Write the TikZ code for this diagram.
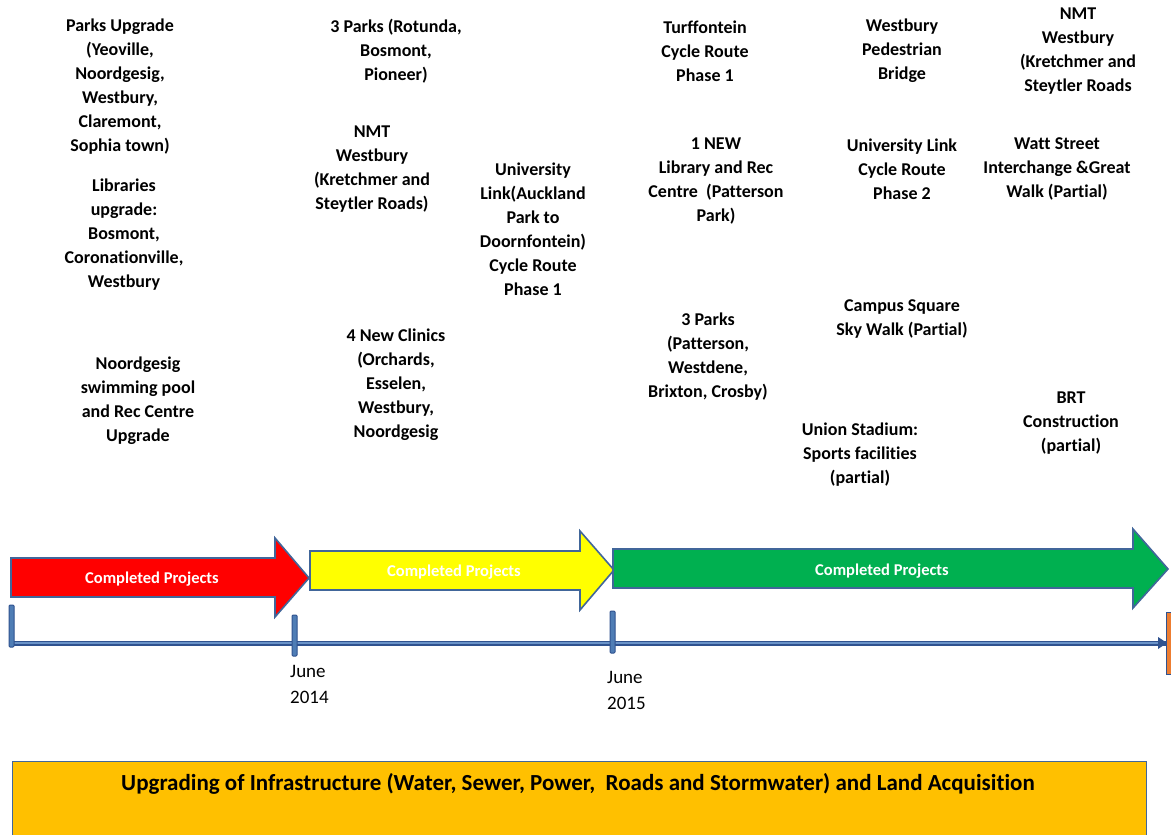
\documentclass[tikz,border=0pt]{standalone}
\usepackage{fontspec}
\setmainfont[RawFeature={-liga}]{Carlito}
\begin{document}
\begin{tikzpicture}[x=1pt,y=-1pt,
  lbl/.style={font=\bfseries\fontsize{18}{24}\selectfont, align=center, inner sep=0pt},
  date/.style={font=\fontsize{19}{26}\selectfont, align=left, inner sep=0pt, anchor=north west},
  arrbody/.style={draw=arrowedge, line width=1.6pt, line join=miter},
  tick/.style={draw=tickedge, fill=tickfill, line width=1pt, rounded corners=1pt},
  arrtext/.style={font=\bfseries\fontsize{16.5}{18}\selectfont, text=white, inner sep=0pt}]
\definecolor{arrowedge}{HTML}{41669A}
\definecolor{tickedge}{HTML}{2F528F}
\definecolor{tickfill}{HTML}{4F7DB5}
\definecolor{linein}{HTML}{6A93C8}
\definecolor{redA}{HTML}{FF0000}
\definecolor{yelA}{HTML}{FFFF00}
\definecolor{grnA}{HTML}{00B050}
\definecolor{boxfill}{HTML}{FFC000}
\definecolor{orangeT}{HTML}{ED7D31}
\useasboundingbox (0,0) rectangle (1171,835);
\fill[white] (0,0) rectangle (1171,835);

% big arrows
\draw[arrbody, fill=redA] (11,558) -- (275,558) -- (275,538) -- (309,578) -- (275,617) -- (275,597) -- (11,597) -- cycle;
\draw[arrbody, fill=yelA] (310,551) -- (580,551) -- (580,531) -- (614,570) -- (580,610) -- (580,590) -- (310,590) -- cycle;
\draw[arrbody, fill=grnA] (613,549) -- (1133,549) -- (1133,529) -- (1168,569) -- (1133,608) -- (1133,588) -- (613,588) -- cycle;
\node[arrtext] (a1) at (152,579) {Completed Projects};
\node[arrtext] (a2) at (454,572) {Completed Projects};
\node[arrtext] (a3) at (882,571) {Completed Projects};

% timeline
\coordinate (t0) at (11,643);
\coordinate (tend) at (1166,643);
\draw[tickedge, line width=5pt] (t0) -- (tend);
\draw[linein, line width=1.6pt] (t0) -- (1160,643);
\fill[tickedge] (1158,637) -- (1167,643) -- (1158,649) -- cycle;
\draw[tick] (9,605) rectangle (14,647);
\draw[tick] (292,615) rectangle (297,656);
\draw[tick] (610,611) rectangle (615,653);
\draw[draw=tickedge, fill=orangeT, line width=1pt] (1166,612) rectangle (1173,674);

\node[date] (d1) at (290,665) {June\\2014};
\node[date] (d2) at (607,671) {June\\2015};

% bottom box
\draw[draw=arrowedge, fill=boxfill, line width=1pt] (12,761) rectangle (1146,840);
\node[font=\bfseries\fontsize{23}{26}\selectfont, inner sep=0pt] (infra) at (578,784) {Upgrading of Infrastructure (Water, Sewer, Power,\ \ Roads and Stormwater) and Land Acquisition};

% labels
\node[lbl] (p1) at (120,87) {Parks Upgrade\\(Yeoville,\\Noordgesig,\\Westbury,\\Claremont,\\Sophia town)};
\node[lbl] (p2) at (124,235) {Libraries\\upgrade:\\Bosmont,\\Coronationville,\\Westbury};
\node[lbl] (p3) at (138,401) {Noordgesig\\swimming pool\\and Rec Centre\\Upgrade};
\node[lbl] (p4) at (396,51) {3 Parks (Rotunda,\\Bosmont,\\Pioneer)};
\node[lbl] (p5) at (372,169) {NMT\\Westbury\\(Kretchmer and\\Steytler Roads)};
\node[lbl] (p6) at (396,385) {4 New Clinics\\(Orchards,\\Esselen,\\Westbury,\\Noordgesig};
\node[lbl] (p7) at (533,229) {University\\Link(Auckland\\Park to\\Doornfontein)\\Cycle Route\\Phase 1};
\node[lbl] (p8) at (705,51) {Turffontein\\Cycle Route\\Phase 1};
\node[lbl] (p9) at (716,181) {1 NEW\\Library and Rec\\Centre\ \ (Patterson\\Park)};
\node[lbl] (p10) at (708,357) {3 Parks\\(Patterson,\\Westdene,\\Brixton, Crosby)};
\node[lbl] (p11) at (902,51) {Westbury\\Pedestrian\\Bridge};
\node[lbl] (p12) at (902,169) {University Link\\Cycle Route\\Phase 2};
\node[lbl] (p13) at (902,319) {Campus Square\\Sky Walk (Partial)};
\node[lbl] (p14) at (860,455) {Union Stadium:\\Sports facilities\\(partial)};
\node[lbl] (p15) at (1078,51) {NMT\\Westbury\\(Kretchmer and\\Steytler Roads};
\node[lbl] (p16) at (1057,169) {Watt Street\\Interchange \&Great\\Walk (Partial)};
\node[lbl] (p17) at (1071,423) {BRT\\Construction\\(partial)};
\end{tikzpicture}
\end{document}
